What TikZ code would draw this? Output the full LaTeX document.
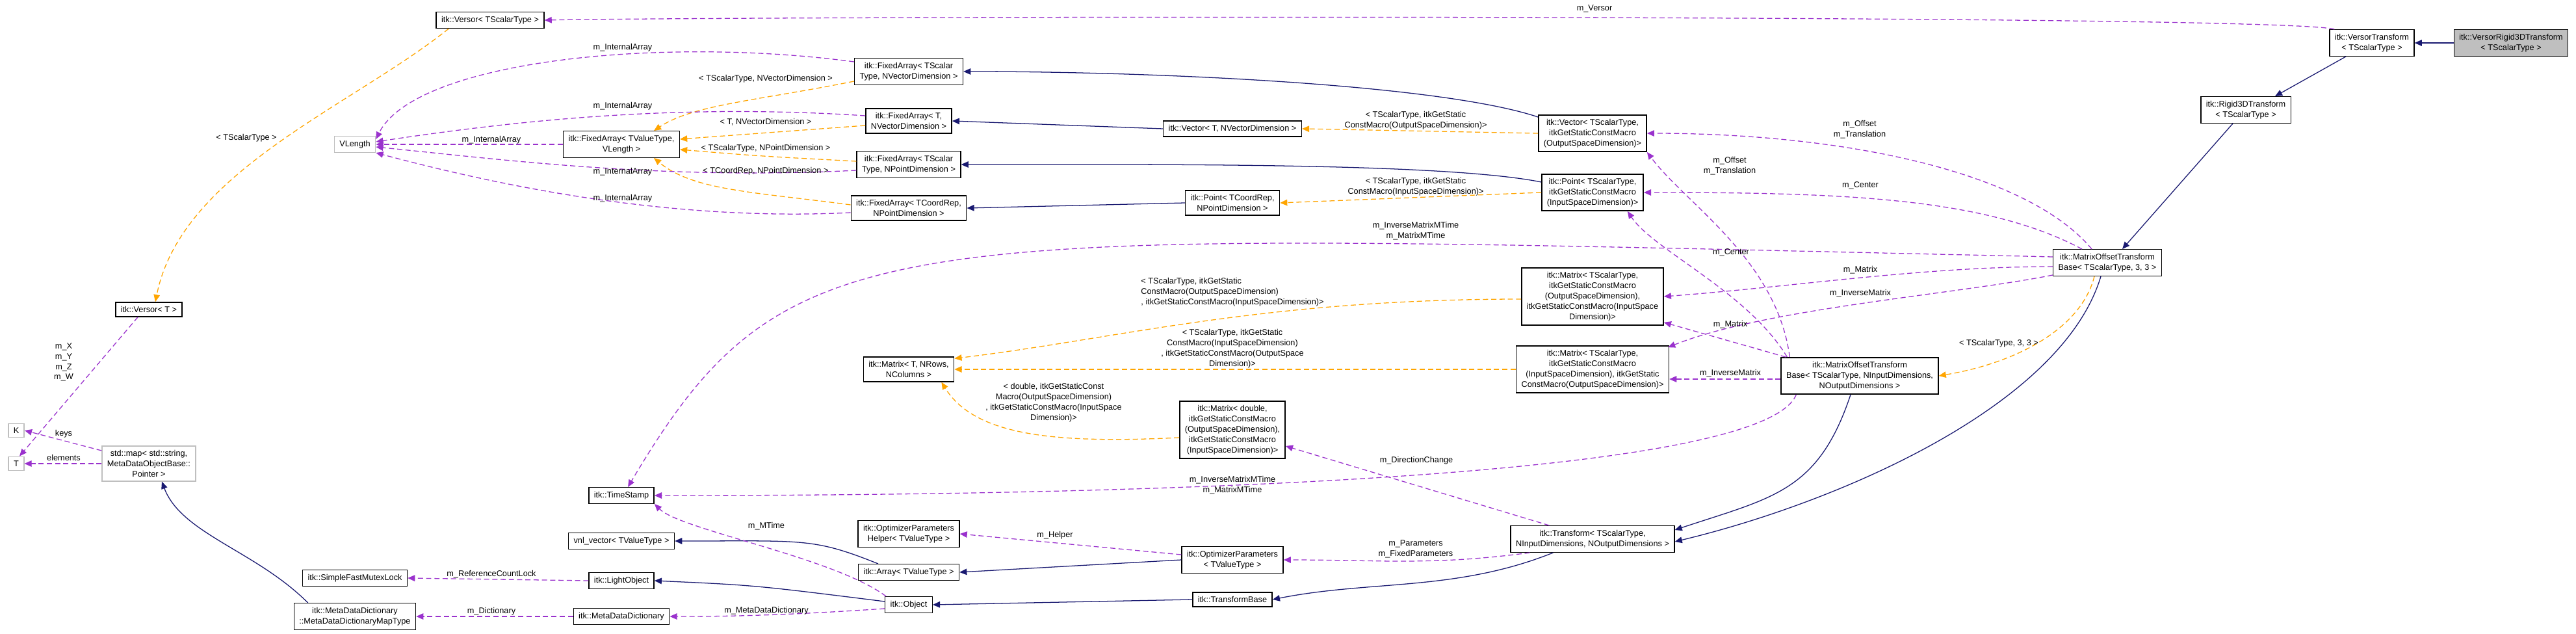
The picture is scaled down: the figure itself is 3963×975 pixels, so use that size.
\documentclass[tikz,border=0pt]{standalone}
\usepackage{fontspec}
\setmainfont{Liberation Sans}
\usetikzlibrary{arrows.meta, calc}

\definecolor{inhblue}{HTML}{191970}
\definecolor{usepurple}{HTML}{9A32CD}
\definecolor{tmplorange}{HTML}{FFA500}
\definecolor{boxgray}{HTML}{BFBFBF}

\tikzset{
  cls/.style={draw=black, line width=0.9pt, fill=white, align=center,
    inner xsep=5pt, inner ysep=4pt, font=\fontsize{8}{10}\selectfont},
  ext/.style={cls, draw=boxgray},
  cur/.style={cls, fill=boxgray},
  lbl/.style={align=center, inner sep=0pt, font=\fontsize{8}{10}\selectfont},
  tip/.style={-{Triangle[length=7pt,width=6pt,fill=#1]}},
  inh/.style={tip=inhblue, draw=inhblue, line width=0.8pt},
  use/.style={tip=usepurple, draw=usepurple, line width=0.8pt, dash pattern=on 5pt off 3pt},
  tmpl/.style={tip=tmplorange, draw=tmplorange, line width=0.8pt, dash pattern=on 5pt off 3pt},
}

\begin{document}
\begin{tikzpicture}[x=0.0221cm, y=-0.0221cm]
  \useasboundingbox (0,0) rectangle (3963,975);

  % classes
  \node[cur] (vr3d) at (3863,66) {itk::VersorRigid3DTransform\\< TScalarType >};
  \node[cls] (vt) at (3649,66) {itk::VersorTransform\\< TScalarType >};
  \node[cls] (r3d) at (3455,169) {itk::Rigid3DTransform\\< TScalarType >};
  \node[cls] (motb3) at (3242,404) {itk::MatrixOffsetTransform\\Base< TScalarType, 3, 3 >};
  \node[cls] (motb) at (2861,578) {itk::MatrixOffsetTransform\\Base< TScalarType, NInputDimensions,\\NOutputDimensions >};
  \node[cls] (trf) at (2450,829) {itk::Transform< TScalarType,\\NInputDimensions, NOutputDimensions >};
  \node[cls] (vecS) at (2450,205) {itk::Vector< TScalarType,\\itkGetStaticConstMacro\\(OutputSpaceDimension)>};
  \node[cls] (pntS) at (2450,296) {itk::Point< TScalarType,\\itkGetStaticConstMacro\\(InputSpaceDimension)>};
  \node[cls] (mSOI) at (2450,456) {itk::Matrix< TScalarType,\\itkGetStaticConstMacro\\(OutputSpaceDimension),\\itkGetStaticConstMacro(InputSpace\\Dimension)>};
  \node[cls] (mSIO) at (2450,568) {itk::Matrix< TScalarType,\\itkGetStaticConstMacro\\(InputSpaceDimension), itkGetStatic\\ConstMacro(OutputSpaceDimension)>};
  \node[cls] (vecT) at (1896,198) {itk::Vector< T, NVectorDimension >};
  \node[cls] (pntC) at (1896,312) {itk::Point< TCoordRep,\\NPointDimension >};
  \node[cls] (mD) at (1896,661) {itk::Matrix< double,\\itkGetStaticConstMacro\\(OutputSpaceDimension),\\itkGetStaticConstMacro\\(InputSpaceDimension)>};
  \node[cls] (optp) at (1896,861) {itk::OptimizerParameters\\< TValueType >};
  \node[cls] (tbase) at (1896,922) {itk::TransformBase};
  \node[cls] (faSV) at (1398,110) {itk::FixedArray< TScalar\\Type, NVectorDimension >};
  \node[cls] (faTV) at (1398,186) {itk::FixedArray< T,\\NVectorDimension >};
  \node[cls] (faSP) at (1398,253) {itk::FixedArray< TScalar\\Type, NPointDimension >};
  \node[cls] (faCP) at (1398,320) {itk::FixedArray< TCoordRep,\\NPointDimension >};
  \node[cls] (mT) at (1398,568) {itk::Matrix< T, NRows,\\NColumns >};
  \node[cls] (helper) at (1398,821) {itk::OptimizerParameters\\Helper< TValueType >};
  \node[cls] (arr) at (1398,880) {itk::Array< TValueType >};
  \node[cls] (obj) at (1398,930) {itk::Object};
  \node[cls] (versS) at (754,31) {itk::Versor< TScalarType >};
  \node[cls] (fat) at (956,222) {itk::FixedArray< TValueType,\\VLength >};
  \node[cls] (tstamp) at (956,762) {itk::TimeStamp};
  \node[cls] (vnl) at (956,832) {vnl\_vector< TValueType >};
  \node[cls] (lobj) at (956,893) {itk::LightObject};
  \node[cls] (mdd) at (956,948) {itk::MetaDataDictionary};
  \node[ext] (vlen) at (546,222) {VLength};
  \node[cls] (sfml) at (546,889) {itk::SimpleFastMutexLock};
  \node[cls] (mapT) at (546,948) {itk::MetaDataDictionary\\::MetaDataDictionaryMapType};
  \node[cls] (versT) at (229,476) {itk::Versor< T >};
  \node[ext] (smap) at (229,713) {std::map< std::string,\\MetaDataObjectBase::\\Pointer >};
  \node[ext] (kk) at (25,662) {K};
  \node[ext] (tt) at (25,713) {T};

  % inheritance
  \draw[inh] (vr3d.west) -- (vt.east);
  \draw[inh] ($(vt.south)+(-40,0)$) -- ($(r3d.north)+(45,0)$);
  \draw[inh] ($(r3d.south)+(-20,0)$) -- ($(motb3.north)+(23,0)$);
  \draw[inh] ($(motb3.south)+(-10,0)$) .. controls +(-60,200) and +(250,-60) .. ($(trf.east)+(0,4)$);
  \draw[inh] ($(motb.south)+(-14,0)$) .. controls +(-50,150) and +(150,-50) .. ($(trf.east)+(0,-14)$);
  \draw[inh] ($(trf.south west)+(66,0)$) .. controls +(-150,60) and +(150,-30) .. (tbase.east);
  \draw[inh] (tbase.west) -- (obj.east);
  \draw[inh] ($(obj.west)+(0,-5)$) .. controls +(-200,-25) .. (lobj.east);
  \draw[inh] (optp.west) -- (arr.east);
  \draw[inh] ($(arr.north)+(-47,0)$) .. controls +(-100,-40) and +(200,0) .. (vnl.east);
  \draw[inh] (vecT.west) -- (faTV.east);
  \draw[inh] (pntC.west) -- (faCP.east);
  \draw[inh] ($(vecS.west)+(0,-25)$) .. controls +(-150,-50) and +(300,0) .. (faSV.east);
  \draw[inh] ($(pntS.west)+(0,-16)$) .. controls +(-150,-30) and +(300,0) .. (faSP.east);
  \draw[inh] ($(mapT.north west)+(22,0)$) .. controls +(-80,-80) and +(30,80) .. ($(smap.south)+(20,0)$);

  % template instances
  \draw[tmpl] ($(versS.south west)+(20,0)$) .. controls +(-150,120) and +(40,-200) .. ($(versT.north)+(10,0)$);
  \draw[tmpl] ($(faSV.west)+(0,15)$) .. controls +(-150,30) and +(60,-40) .. ($(fat.north east)+(-40,0)$);
  \draw[tmpl] ($(faTV.west)+(0,7)$) -- ($(fat.east)+(0,-8)$);
  \draw[tmpl] ($(faSP.west)+(0,-5)$) .. controls +(-150,-8) .. ($(fat.east)+(0,8)$);
  \draw[tmpl] ($(faCP.west)+(0,-5)$) .. controls +(-150,-20) and +(60,50) .. ($(fat.south east)+(-40,0)$);
  \draw[tmpl] (vecS.west) -- (vecT.east);
  \draw[tmpl] (pntS.west) -- (pntC.east);
  \draw[tmpl] ($(mSOI.west)+(0,4)$) .. controls +(-400,0) and +(250,-30) .. ($(mT.north east)+(0,3)$);
  \draw[tmpl] (mSIO.west) -- (mT.east);
  \draw[tmpl] ($(mD.west)+(0,12)$) .. controls +(-200,10) and +(50,80) .. ($(mT.south east)+(-20,0)$);
  \draw[tmpl] ($(motb3.south)+(-20,0)$) .. controls +(-20,80) and +(120,-20) .. (motb.east);

  % members
  \draw[use] ($(vt.north west)+(8,0)$) .. controls +(-80,-24) and +(300,-6) .. (versS.east);
  \draw[use] ($(faSV.west)+(0,-15)$) .. controls +(-300,-40) and +(60,-120) .. ($(vlen.east)+(0,-8)$);
  \draw[use] ($(faTV.west)+(0,-8)$) .. controls +(-300,-20) and +(200,-30) .. ($(vlen.east)+(0,-4)$);
  \draw[use] ($(faSP.west)+(0,9)$) .. controls +(-300,15) and +(200,20) .. ($(vlen.east)+(0,4)$);
  \draw[use] ($(faCP.west)+(0,7)$) .. controls +(-300,15) and +(150,40) .. (vlen.south east);
  \draw[use] (fat.west) -- (vlen.east);
  \draw[use] ($(versT.south)+(-17,0)$) -- ($(tt.north)+(5,0)$);
  \draw[use] ($(smap.west)+(0,-20)$) -- (kk.east);
  \draw[use] (smap.west) -- (tt.east);
  \draw[use] (lobj.west) -- (sfml.east);
  \draw[use] (mdd.west) -- (mapT.east);
  \draw[use] ($(obj.west)+(0,6)$) .. controls +(-150,10) and +(100,0) .. (mdd.east);
  \draw[use] ($(obj.north west)+(2,0)$) .. controls +(-80,-60) and +(40,40) .. (tstamp.south east);
  \draw[use] ($(motb3.west)+(0,-9)$) .. controls +(-1800,-40) and +(250,-420) .. ($(tstamp.north)+(10,0)$);
  \draw[use] ($(motb.south west)+(24,0)$) .. controls +(-60,150) and +(400,0) .. (tstamp.east);
  \draw[use] ($(optp.west)+(0,-8)$) -- (helper.east);
  \draw[use] ($(trf.south west)+(30,0)$) .. controls +(-150,20) and +(150,0) .. (optp.east);
  \draw[use] ($(trf.north west)+(60,0)$) -- ($(mD.east)+(0,25)$);
  \draw[use] ($(motb3.north west)+(60,0)$) .. controls +(-100,-120) and +(300,0) .. (vecS.east);
  \draw[use] ($(motb.north west)+(14,0)$) .. controls +(-20,-150) and +(60,80) .. (vecS.south east);
  \draw[use] ($(motb3.north west)+(45,0)$) .. controls +(-150,-80) and +(300,0) .. (pntS.east);
  \draw[use] ($(motb.north west)+(10,0)$) .. controls +(-60,-100) and +(40,60) .. ($(pntS.south east)+(-25,0)$);
  \draw[use] ($(motb3.west)+(0,6)$) .. controls +(-200,0) and +(200,-15) .. (mSOI.east);
  \draw[use] ($(motb3.south west)+(0,-2)$) .. controls +(-150,30) and +(150,-60) .. ($(mSIO.north east)+(-2,3)$);
  \draw[use] ($(motb.north west)+(8,0)$) -- ($(mSOI.south east)+(0,-5)$);
  \draw[use] ($(motb.west)+(0,5)$) -- ($(mSIO.east)+(0,15)$);

  % labels
  \node[lbl] (lVersor) at (2453,13) {m\_Versor};
  \node[lbl] (lIA1) at (958,73) {m\_InternalArray};
  \node[lbl] (lIA2) at (958,163) {m\_InternalArray};
  \node[lbl] (lIA3) at (958,264) {m\_InternalArray};
  \node[lbl] (lIA4) at (958,305) {m\_InternalArray};
  \node[lbl] (lIA5) at (756,215) {m\_InternalArray};
  \node[lbl] (tSV) at (1178,121) {< TScalarType, NVectorDimension >};
  \node[lbl] (tTV) at (1178,188) {< T, NVectorDimension >};
  \node[lbl] (tSP) at (1178,228) {< TScalarType, NPointDimension >};
  \node[lbl] (tCP) at (1178,263) {< TCoordRep, NPointDimension >};
  \node[lbl] (tVers) at (379,212) {< TScalarType >};
  \node[lbl] (lXYZW) at (98,557) {m\_X\\m\_Y\\m\_Z\\m\_W};
  \node[lbl] (lKeys) at (98,667) {keys};
  \node[lbl] (lElem) at (98,704) {elements};
  \node[lbl] (lRCL) at (756,883) {m\_ReferenceCountLock};
  \node[lbl] (lDict) at (756,940) {m\_Dictionary};
  \node[lbl] (lMDD) at (1179,939) {m\_MetaDataDictionary};
  \node[lbl] (lMTime) at (1179,809) {m\_MTime};
  \node[lbl] (lHelper) at (1623,823) {m\_Helper};
  \node[lbl] (lParams) at (2178,844) {m\_Parameters\\m\_FixedParameters};
  \node[lbl] (lDir) at (2179,708) {m\_DirectionChange};
  \node[lbl] (lMT2) at (1896,746) {m\_InverseMatrixMTime\\m\_MatrixMTime};
  \node[lbl] (lMT1) at (2178,355) {m\_InverseMatrixMTime\\m\_MatrixMTime};
  \node[lbl] (tVec) at (2178,185) {< TScalarType, itkGetStatic\\ConstMacro(OutputSpaceDimension)>};
  \node[lbl] (tPnt) at (2178,287) {< TScalarType, itkGetStatic\\ConstMacro(InputSpaceDimension)>};
  \node[lbl, align=left] (tSOI) at (1896,449) {< TScalarType, itkGetStatic\\ConstMacro(OutputSpaceDimension)\\, itkGetStaticConstMacro(InputSpaceDimension)>};
  \node[lbl] (tSIO) at (1896,536) {< TScalarType, itkGetStatic\\ConstMacro(InputSpaceDimension)\\, itkGetStaticConstMacro(OutputSpace\\Dimension)>};
  \node[lbl] (tD) at (1621,619) {< double, itkGetStaticConst\\Macro(OutputSpaceDimension)\\, itkGetStaticConstMacro(InputSpace\\Dimension)>};
  \node[lbl] (lOff1) at (2861,199) {m\_Offset\\m\_Translation};
  \node[lbl] (lOff2) at (2661,255) {m\_Offset\\m\_Translation};
  \node[lbl] (lCen1) at (2862,285) {m\_Center};
  \node[lbl] (lCen2) at (2663,388) {m\_Center};
  \node[lbl] (lMat1) at (2862,415) {m\_Matrix};
  \node[lbl] (lInv1) at (2862,451) {m\_InverseMatrix};
  \node[lbl] (lMat2) at (2662,499) {m\_Matrix};
  \node[lbl] (lInv2) at (2662,574) {m\_InverseMatrix};
  \node[lbl] (t33) at (3075,528) {< TScalarType, 3, 3 >};
\end{tikzpicture}
\end{document}
